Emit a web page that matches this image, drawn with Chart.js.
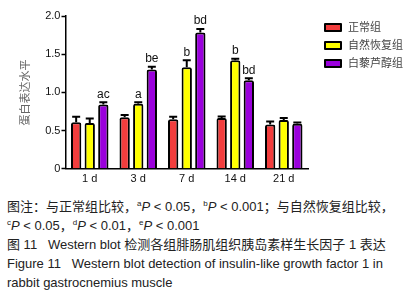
<!DOCTYPE html>
<html>
<head>
<meta charset="utf-8">
<script src="https://cdn.jsdelivr.net/npm/chart.js@4.4.1/dist/chart.umd.min.js"></script>
<style>
  body { margin: 0; background: #fff; width: 417px; height: 298px; overflow: hidden; }
  #wrap { position: relative; width: 417px; height: 190px; }
  #legend { position: absolute; left: 324px; top: 17px; font-family: "Noto Sans CJK SC", sans-serif;
            font-size: 11px; color: #444; }
  #legend div { height: 18px; line-height: 18px; white-space: nowrap; }
  #legend span { display: inline-block; width: 14px; height: 5px; border: 2px solid #000; border-radius: 1px;
                 vertical-align: middle; margin: -2px 6px 0 0; }
  .cap { font-family: "Liberation Sans", Arial, "Noto Sans CJK SC", sans-serif; font-size: 13px; color: #222;
         line-height: 19px; margin: 7px 0 0 7px; white-space: nowrap; }
  .cap i { font-style: italic; }
  .cap sup { font-size: 8px; vertical-align: 5px; line-height: 0; }
</style>
</head>
<body>
<div id="wrap"><canvas id="igf"></canvas><div id="legend"></div></div>
<div class="cap">
图注：与正常组比较，<sup>a</sup><i>P</i> &lt; 0.05，<sup>b</sup><i>P</i> &lt; 0.001；与自然恢复组比较，<br>
<sup>c</sup><i>P</i> &lt; 0.05，<sup>d</sup><i>P</i> &lt; 0.01，<sup>e</sup><i>P</i> &lt; 0.001<br>
图 11&nbsp;&nbsp;&nbsp;Western blot 检测各组腓肠肌组织胰岛素样生长因子 1 表达<br>
Figure 11&nbsp;&nbsp;&nbsp;Western blot detection of insulin-like growth factor 1 in<br>
rabbit gastrocnemius muscle
</div>
<script>
var days = ["1 d", "3 d", "7 d", "14 d", "21 d"];
var groups = ["正常组", "自然恢复组", "白藜芦醇组"];
var normal = [0.61, 0.675, 0.65, 0.665, 0.58];
var natural = [0.60, 0.85, 1.33, 1.42, 0.64];
var resveratrol = [0.84, 1.30, 1.785, 1.16, 0.59];
var normalErr = [0.07, 0.03, 0.03, 0.02, 0.04];
var naturalErr = [0.06, 0.02, 0.09, 0.02, 0.025];
var resveratrolErr = [0.03, 0.035, 0.045, 0.025, 0.015];
var normalMark = ["", "", "", "", ""];
var naturalMark = ["", "a", "b", "b", ""];
var resveratrolMark = ["ac", "be", "bd", "bd", ""];
var yTicks = [0, 0.5, 1.0, 1.5, 2.0];
var colors = ['#F23D3D', '#FFFF00', '#9A00DC'];

var errs = [normalErr, naturalErr, resveratrolErr];
var marks = [normalMark, naturalMark, resveratrolMark];

// upper error bars + significance letters
var errorBars = {
    id: 'errorBars',
    afterDatasetsDraw: function (chart) {
        var ctx = chart.ctx;
        var y = chart.scales.y;
        ctx.save();
        chart.data.datasets.forEach(function (ds, i) {
            var meta = chart.getDatasetMeta(i);
            meta.data.forEach(function (bar, j) {
                var top = y.getPixelForValue(ds.data[j] + errs[i][j]);
                ctx.strokeStyle = '#000';
                ctx.lineWidth = 2;
                ctx.beginPath();
                ctx.moveTo(bar.x, bar.y);
                ctx.lineTo(bar.x, top);
                ctx.moveTo(bar.x - 4, top);
                ctx.lineTo(bar.x + 4, top);
                ctx.stroke();
                if (marks[i][j]) {
                    ctx.fillStyle = '#111';
                    ctx.font = '12px "Liberation Sans", Arial, sans-serif';
                    ctx.textAlign = 'center';
                    ctx.textBaseline = 'bottom';
                    ctx.fillText(marks[i][j], bar.x, top - 2);
                }
            });
        });
        ctx.restore();
    }
};

new Chart(document.getElementById("igf").getContext("2d"), {
    type: 'bar',
    data: {
        labels: days,
        datasets: [
            { label: groups[0], data: normal, backgroundColor: colors[0] },
            { label: groups[1], data: natural, backgroundColor: colors[1] },
            { label: groups[2], data: resveratrol, backgroundColor: colors[2] }
        ]
    },
    options: {
        responsive: true,
        maintainAspectRatio: false,
        animation: false,
        datasets: {
            bar: {
                borderColor: '#000',
                borderWidth: 2,
                borderSkipped: 'bottom',
                borderRadius: { topLeft: 2, topRight: 2 },
                categoryPercentage: 0.84,
                barPercentage: 0.76
            }
        },
        layout: { padding: { top: 16, right: 109, left: 14, bottom: 0 } },
        plugins: {
            tooltip: { enabled: false },
            legend: { display: false }
        },
        scales: {
            x: {
                grid: { display: false, drawTicks: false },
                border: { color: '#000', width: 1.5 },
                ticks: { color: '#111', padding: 4, font: { family: '"Liberation Sans", Arial, sans-serif', size: 11 } }
            },
            y: {
                min: 0,
                max: 2,
                afterBuildTicks: function (axis) {
                    axis.ticks = yTicks.map(function (v) { return { value: v }; });
                },
                grid: { display: true, drawOnChartArea: false, drawTicks: true, tickLength: 4, tickColor: '#000', tickWidth: 1.5 },
                border: { color: '#000', width: 1.5 },
                ticks: {
                    autoSkip: false,
                    color: '#111',
                    padding: 1,
                    font: { family: '"Liberation Sans", Arial, sans-serif', size: 11 }
                },
                title: {
                    display: true,
                    text: '蛋白表达水平',
                    color: '#666',
                    padding: { top: 4, bottom: 13 },
                    font: { family: '"Noto Sans CJK SC", sans-serif', size: 11 }
                }
            }
        }
    },
    plugins: [errorBars]
});

// legend as html, built from the group names and colours
document.getElementById('legend').innerHTML = groups.map(function (g, i) {
    return '<div><span style="background:' + colors[i] + '"></span>' + g + '</div>';
}).join('');
</script>
</body>
</html>
